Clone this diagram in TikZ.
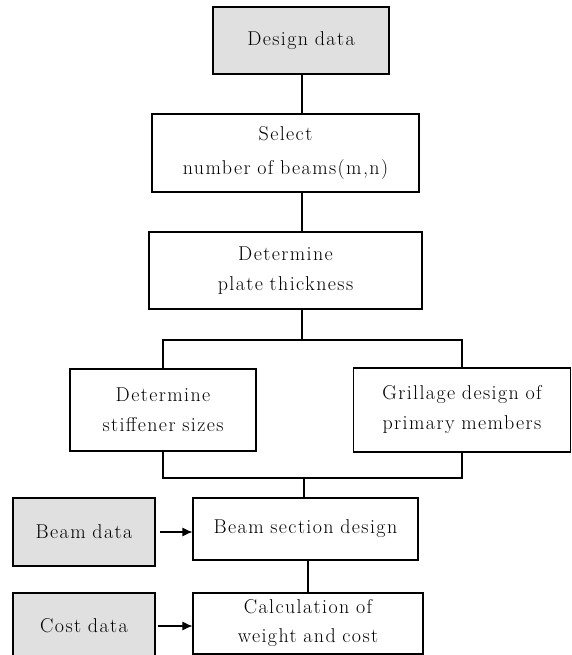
\documentclass[tikz,border=0pt]{standalone}
\usepackage{fontspec}
\setmainfont{Latin Modern Roman}[LetterSpace=7, WordSpace=2.6]
\usepackage{tikz}
\usetikzlibrary{arrows.meta}
\definecolor{datagray}{gray}{0.88}

\begin{document}
\begin{tikzpicture}[x=1pt, y=-1pt, >={Latex[length=10pt,width=9pt]},
	box/.style={draw, line width=1.1pt, fill=white, inner sep=0pt, align=center, font=\fontsize{20}{30}\selectfont},
	databox/.style={box, fill=datagray},
	link/.style={line width=1.1pt}]
	\useasboundingbox (0,0) rectangle (571,655);
	\node[databox, text width=176, minimum height=67] (design) at (301,40.5) {Design data};
	\node[box, text width=267, minimum height=78] (select) at (285.5,153) {Select\\[4pt] number of beams(m,n)};
	\node[box, text width=273, minimum height=77] (plate) at (285.5,270.5) {Determine\\ plate thickness};
	\node[box, text width=186, minimum height=82] (stiff) at (163,410) {Determine\\ stiffener sizes};
	\node[box, text width=217, minimum height=84] (grill) at (462,410) {Grillage design of\\ primary members};
	\node[box, text width=225, minimum height=62] (beamsec) at (305.5,529) {Beam section design};
	\node[box, text width=230, minimum height=61, font=\fontsize{20}{29}\selectfont] (calc) at (308,623.5) {Calculation of\\ weight and cost};
	\node[databox, text width=142, minimum height=68] (beamdata) at (84,532) {Beam data};
	\node[databox, text width=142, minimum height=66] (costdata) at (84,626) {Cost data};
	\coordinate (split) at (302,340);
	\coordinate (join) at (304,478);
	\draw[link] (design.south -| split) -- (select.north -| split);
	\draw[link] (select.south -| split) -- (plate.north -| split);
	\draw[link] (plate.south -| split) -- (split);
	\draw[link] (stiff.north) |- (split) -| (grill.north);
	\draw[link] (stiff.south) |- (join) -| (grill.south);
	\draw[link] (join) -- (beamsec.north -| join);
	\draw[link] (beamsec.south -| calc) -- (calc.north);
	\draw[link, ->] ([xshift=4]beamdata.east) -- (beamdata.east -| beamsec.west);
	\draw[link, ->] ([xshift=2]costdata.east) -- (costdata.east -| calc.west);
\end{tikzpicture}
\end{document}
